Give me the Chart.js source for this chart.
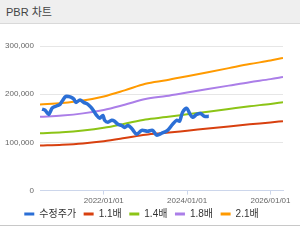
<!DOCTYPE html>
<html>
<head>
<meta charset="utf-8">
<script src="https://cdn.jsdelivr.net/npm/chart.js@4/dist/chart.umd.min.js"></script>
<style>
  body { margin: 0; width: 300px; height: 248px; background: #fff; position: relative; overflow: hidden; }
  .head { height: 23px; background: #efefef; border-bottom: 1px solid #d9d9d9;
          font: 11px "Liberation Sans", "Noto Sans CJK KR", sans-serif; color: #444; line-height: 24px; padding-left: 6px; }
  .box { position: absolute; top: 24px; left: 0; width: 300px; height: 205px; }
  .foot { position: absolute; top: 225px; left: 0; width: 300px; height: 23px; background: #fff; border-top: 1px solid #c8c8c8; }
</style>
</head>
<body>
<div class="head">PBR 차트</div>
<div class="box"><canvas id="pbr-chart"></canvas></div>
<div class="foot"></div>
<script>
// x는 연도(소수), y는 원
const priceYears = [2020.52,2020.59,2020.68,2020.76,2020.85,2020.95,2021.02,2021.07,2021.11,2021.21,2021.28,2021.33,2021.43,2021.52,2021.62,2021.69,2021.76,2021.83,2021.90,2021.98,2022.02,2022.10,2022.19,2022.26,2022.34,2022.43,2022.50,2022.58,2022.67,2022.79,2022.91,2023.05,2023.17,2023.27,2023.39,2023.53,2023.65,2023.75,2023.82,2023.89,2023.99,2024.06,2024.13,2024.23,2024.32,2024.42,2024.52];
const priceValues = [169000,167000,158000,171000,175000,179000,188000,194000,196000,194000,190000,183000,188000,183000,179000,173000,165000,156000,150000,156000,146000,142000,146000,144000,137500,135000,131000,135000,129000,117000,125000,123000,125000,115000,119000,125000,137500,146000,144000,162500,171000,160000,152000,158000,160000,154000,154000];

const bandYears = [2020.47,2021.0,2021.5,2022.0,2022.5,2023.0,2023.5,2024.0,2024.5,2025.0,2025.5,2026.0,2026.3];
const band11 = [93500,95200,97900,102300,108900,116100,119900,124300,128700,133100,137500,141400,144100];
const band14 = [119000,121100,124600,130200,138600,147700,152600,158200,163800,169400,175000,179900,183400];
const band18 = [153000,155700,160200,167400,178200,189900,196200,203400,210600,217800,225000,231300,235800];
const band21 = [178500,181700,186900,195300,207900,221600,228900,237300,245700,254100,262500,269900,275100];

const xTicks = [2022, 2024, 2026];
const yTicks = [0, 100000, 200000, 300000];

const pts = (xs, ys) => xs.map((x, i) => ({ x: x, y: ys[i] }));

const fontFam = "'Liberation Sans', 'Noto Sans CJK KR', sans-serif";

const bandLine = (label, data, color) => ({
  label: label,
  data: pts(bandYears, data),
  borderColor: color,
  backgroundColor: color,
  borderWidth: 2,
  pointRadius: 0,
  cubicInterpolationMode: "monotone",
});

const ctx = document.querySelector("#pbr-chart").getContext("2d");

const pbrChart = new Chart(ctx, {
  type: "line",
  data: {
    datasets: [
      {
        label: "수정주가",
        data: pts(priceYears, priceValues),
        borderColor: "#2b6fd6",
        backgroundColor: "#2b6fd6",
        borderWidth: 3.5,
        pointRadius: 0,
        tension: 0.3,
      },
      bandLine("1.1배", band11, "#d8400f"),
      bandLine("1.4배", band14, "#8cc416"),
      bandLine("1.8배", band18, "#ab7ee8"),
      bandLine("2.1배", band21, "#ff9a00"),
    ],
  },
  options: {
    responsive: true,
    maintainAspectRatio: false,
    animation: false,
    layout: { padding: { top: 22, left: 0, right: 17, bottom: 0 } },
    plugins: {
      tooltip: { enabled: false },
      legend: {
        position: "bottom",
        labels: {
          usePointStyle: true,
          pointStyle: "line",
          pointStyleWidth: 10,
          padding: 2,
          color: "#333",
          font: { family: fontFam, size: 10 },
          generateLabels: (chart) =>
            Chart.defaults.plugins.legend.labels.generateLabels(chart).map((l, i, all) => {
              l.lineWidth = 3;
              if (i < all.length - 1) l.text = l.text + "  ";
              return l;
            }),
        },
      },
    },
    scales: {
      x: {
        type: "linear",
        min: 2020.47,
        max: 2026.3,
        afterBuildTicks: (axis) => { axis.ticks = xTicks.map((v) => ({ value: v })); },
        grid: { drawOnChartArea: false, tickLength: 4, color: "#ccd6eb" },
        border: { color: "#ccd6eb", width: 1 },
        ticks: {
          maxRotation: 0,
          padding: 1.4,
          color: "#666",
          font: { family: fontFam, size: 8 },
          callback: (v) => v + "/01/01",
        },
      },
      y: {
        min: 0,
        max: 300000,
        afterBuildTicks: (axis) => { axis.ticks = yTicks.map((v) => ({ value: v })); },
        afterFit: (axis) => { axis.width = 40; },
        grid: { color: "#e6e6e6", drawTicks: false },
        border: { display: false },
        ticks: {
          padding: 6,
          color: "#666",
          font: { family: fontFam, size: 8 },
          callback: (v) => v.toLocaleString("en-US"),
        },
      },
    },
  },
});
</script>
</body>
</html>
